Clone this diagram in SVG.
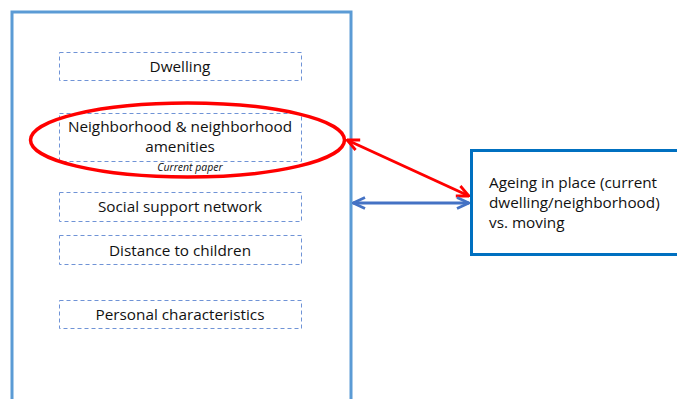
<svg xmlns="http://www.w3.org/2000/svg" width="677" height="399" viewBox="0 0 677 399">
<defs>
<style>
.frame{fill:none;stroke:#5b9bd5;stroke-width:3}
.box{fill:#fff;stroke:#6f93d6;stroke-width:1;stroke-dasharray:4 3}
.t{font-family:"Open Sans","Liberation Sans",sans-serif;font-size:15.3px;fill:#111;text-anchor:middle}
.tl{font-family:"Open Sans","Liberation Sans",sans-serif;font-size:15.3px;fill:#111}
.small{font-family:"Open Sans","Liberation Sans",sans-serif;font-size:10.5px;font-style:italic;fill:#111;text-anchor:middle}
</style>
<marker id="ar" viewBox="0 0 14 14" refX="13" refY="7" markerWidth="14" markerHeight="14" markerUnits="userSpaceOnUse" orient="auto-start-reverse"><path d="M1,1.5 L13,7 L1,12.5" fill="none" stroke="#ff0000" stroke-width="2.8"/></marker>
<marker id="ab" viewBox="0 0 14 14" refX="13" refY="7" markerWidth="14" markerHeight="14" markerUnits="userSpaceOnUse" orient="auto-start-reverse"><path d="M1,1.5 L13,7 L1,12.5" fill="none" stroke="#4472c4" stroke-width="2.8"/></marker>
</defs>
<rect width="677" height="399" fill="#fff"/>
<rect id="frame" class="frame" x="12" y="12" width="339" height="400"/>
<g id="dwelling"><rect class="box" x="59.5" y="52.5" width="242" height="28"/><text class="t" x="180" y="72">Dwelling</text></g>
<g id="neighborhood"><rect class="box" x="59.5" y="113.5" width="242" height="48"/><text class="t" x="180" y="132">Neighborhood &amp; neighborhood</text><text class="t" x="180" y="152">amenities</text><text class="small" x="190" y="171">Current paper</text></g>
<g id="social"><rect class="box" x="59.5" y="192.5" width="242" height="29"/><text class="t" x="180" y="212">Social support network</text></g>
<g id="distance"><rect class="box" x="59.5" y="235.5" width="242" height="29"/><text class="t" x="180" y="256">Distance to children</text></g>
<g id="personal"><rect class="box" x="59.5" y="300.5" width="242" height="28"/><text class="t" x="180" y="320">Personal characteristics</text></g>
<g id="highlight"><ellipse cx="187.5" cy="140" rx="157" ry="37" fill="none" stroke="#ff0000" stroke-width="3.5"/></g>
<g id="outcome"><rect x="471.5" y="150.5" width="210" height="104" fill="#fff" stroke="#0070c0" stroke-width="3"/><text class="tl" x="489" y="188">Ageing in place (current</text><text class="tl" x="489" y="208">dwelling/neighborhood)</text><text class="tl" x="489" y="228">vs. moving</text></g>
<g id="connectors">
<line x1="347" y1="140" x2="469" y2="196" stroke="#ff0000" stroke-width="3" marker-start="url(#ar)" marker-end="url(#ar)"/>
<line x1="353" y1="203" x2="469" y2="203" stroke="#4472c4" stroke-width="3" marker-start="url(#ab)" marker-end="url(#ab)"/>
</g>
</svg>
